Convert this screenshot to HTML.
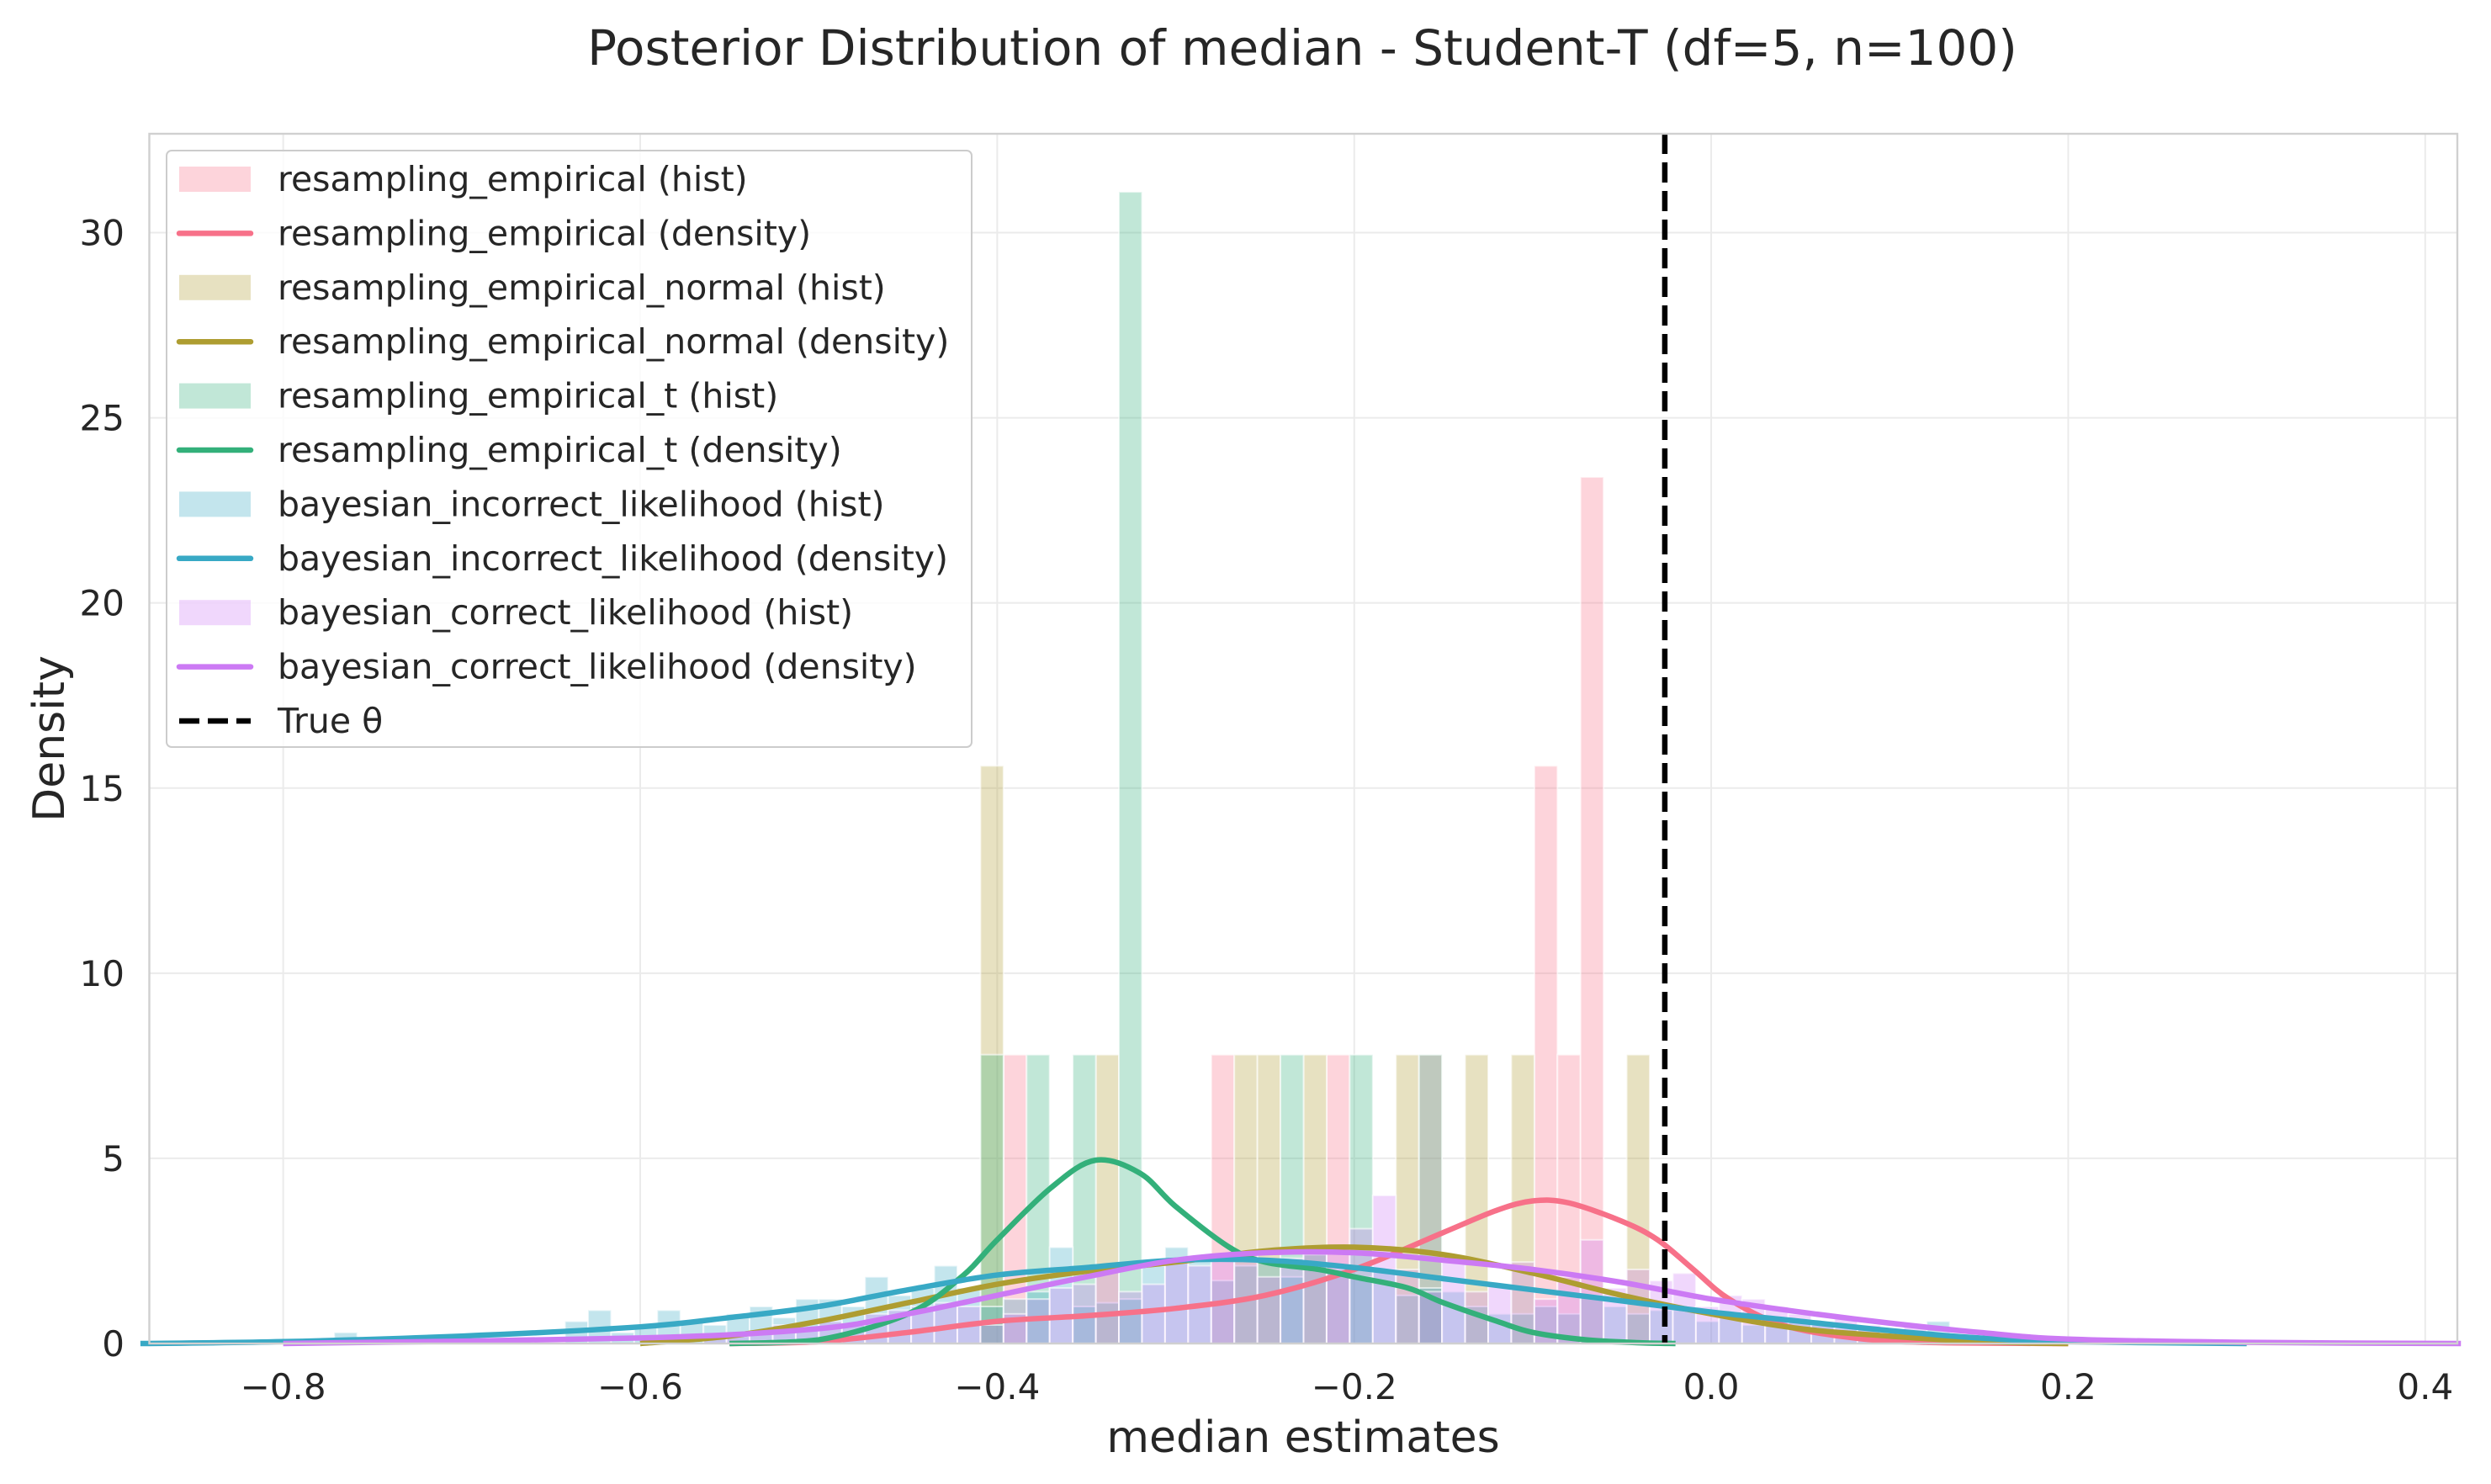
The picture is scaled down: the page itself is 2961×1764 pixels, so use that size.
<!DOCTYPE html>
<html><head><meta charset="utf-8"><style>
body{margin:0;background:#fff}
svg{display:block;font-family:"DejaVu Sans","Liberation Sans",sans-serif}
</style></head><body>
<svg id="c" width="2961" height="1764" xmlns="http://www.w3.org/2000/svg">
<rect width="2961" height="1764" fill="#fff"/>
<text x="1548" y="77" font-size="58" text-anchor="middle" fill="#262626">Posterior Distribution of median - Student-T (df=5, n=100)</text>
<g id="grid"></g><g id="hists"></g><g id="lines"></g><g id="axes"></g><g id="legend"></g>
</svg>
<script>
const xTicks=[-0.8,-0.6,-0.4,-0.2,0.0,0.2,0.4];
const xTickLabels=["\u22120.8","\u22120.6","\u22120.4","\u22120.2","0.0","0.2","0.4"];
const yTicks=[0,5,10,15,20,25,30];
const trueTheta=-0.026;
const binStart=-0.4094, binWidth=0.01293;
const histEmpirical=[[1,7.8],[10,7.8],[15,7.8],[19,7.8],[24,15.6],[25,7.8],[26,23.4]];
const histNormal=[[0,15.6],[5,7.8],[11,7.8],[12,7.8],[14,7.8],[18,7.8],[21,7.8],[23,7.8],[28,7.8]];
const histT=[[0,7.8],[2,7.8],[4,7.8],[6,31.1],[13,7.8],[16,7.8],[19,7.8]];
const bayesFirstBin=-30;
const histIncorrect=[0,0,0.3,0,0,0,0,0,0,0,0,0,0.6,0.9,0.3,0.5,0.9,0.6,0.5,0.8,1.0,0.7,1.2,1.2,1.0,1.8,1.3,1.5,2.1,1.5,
1.0,1.2,1.4,2.6,1.0,1.1,1.2,2.1,2.6,2.3,1.7,2.1,2.2,1.8,2.4,2.0,1.8,2.0,1.3,1.5,1.4,1.0,0.8,0.8,1.0,0.8,1.3,1.0,0.8,0.9,0.9,0.6,0.8,0.5,0.7,0.6,0.5,0.4,0.4,0.3,0.2,0.6,0.2,0.1,0.1,0.1];
const histCorrect=[0,0,0,0,0,0,0,0,0,0,0,0,0,0,0,0,0.1,0,0.2,0.2,0.3,0.5,0.4,0.6,0.5,0.8,0.9,1.0,1.1,1.0,
0.5,0.8,1.2,1.5,1.6,2.0,1.4,1.6,2.2,2.1,2.4,2.5,1.8,2.3,2.5,2.6,3.1,4.0,2.0,1.4,2.2,1.4,1.6,2.2,1.2,1.8,2.8,1.5,2.0,1.7,1.9,1.0,1.3,1.2,1.0,0.8,0.6,0.7,0.5,0.3,0.5,0.3,0.2,0.1,0.2,0.1];
const densEmpirical=[[-0.55,0],[-0.5,0.05],[-0.45,0.3],[-0.4,0.6],[-0.35,0.75],[-0.3,0.95],[-0.25,1.3],[-0.2,2.0],[-0.15,3.0],[-0.12,3.6],[-0.1,3.85],[-0.08,3.8],[-0.05,3.3],[-0.03,2.8],[-0.01,2.0],[0.01,1.2],[0.04,0.5],[0.08,0.15],[0.12,0.03],[0.2,0]];
const densNormal=[[-0.6,0],[-0.55,0.2],[-0.5,0.6],[-0.45,1.1],[-0.4,1.6],[-0.35,1.95],[-0.3,2.2],[-0.25,2.5],[-0.2,2.6],[-0.15,2.4],[-0.1,1.9],[-0.05,1.3],[0,0.8],[0.05,0.4],[0.1,0.2],[0.15,0.05],[0.2,0]];
const densT=[[-0.55,0],[-0.5,0.1],[-0.45,0.8],[-0.42,1.8],[-0.4,2.8],[-0.37,4.2],[-0.345,4.95],[-0.32,4.6],[-0.3,3.7],[-0.27,2.6],[-0.25,2.2],[-0.22,2.0],[-0.2,1.8],[-0.17,1.5],[-0.15,1.1],[-0.12,0.6],[-0.1,0.3],[-0.07,0.1],[-0.04,0.02],[-0.02,0]];
const densIncorrect=[[-0.88,0],[-0.8,0.05],[-0.7,0.2],[-0.6,0.45],[-0.55,0.7],[-0.5,1.0],[-0.45,1.45],[-0.4,1.85],[-0.35,2.05],[-0.3,2.25],[-0.25,2.25],[-0.2,2.05],[-0.15,1.75],[-0.1,1.45],[-0.05,1.15],[0,0.85],[0.05,0.6],[0.1,0.35],[0.15,0.15],[0.2,0.05],[0.3,0]];
const densCorrect=[[-0.8,0],[-0.6,0.15],[-0.5,0.4],[-0.45,0.8],[-0.4,1.3],[-0.35,1.8],[-0.3,2.25],[-0.25,2.45],[-0.2,2.45],[-0.15,2.25],[-0.1,2.0],[-0.05,1.65],[0,1.2],[0.05,0.85],[0.1,0.55],[0.15,0.3],[0.2,0.12],[0.3,0.03],[0.42,0]];

const L=177.5,R=2921,T=159,B=1597,XMIN=-0.875,XMAX=0.418,YMAX=32.67;
const sx=v=>L+(v-XMIN)/(XMAX-XMIN)*(R-L);
const sy=v=>B-v/YMAX*(B-T);
const NS="http://www.w3.org/2000/svg";
function mk(tag,attrs,parent){const e=document.createElementNS(NS,tag);for(const k in attrs)e.setAttribute(k,attrs[k]);parent.appendChild(e);return e;}
const grid=document.getElementById('grid'),hists=document.getElementById('hists'),lines=document.getElementById('lines'),axes=document.getElementById('axes'),legend=document.getElementById('legend');
mk('rect',{x:L,y:T,width:R-L,height:B-T,fill:'#fff'},grid);
xTicks.forEach((t,i)=>{
 const g=mk('line',{x1:sx(t),x2:sx(t),y1:T,y2:B,stroke:'#ebebeb','stroke-width':2},grid);
 
 
 const tx=mk('text',{x:sx(t),y:1663,'font-size':42,'text-anchor':'middle',fill:'#262626'},axes);
 tx.textContent=xTickLabels[i];
 
 
});
yTicks.forEach(t=>{
 const g=mk('line',{x1:L,x2:R,y1:sy(t),y2:sy(t),stroke:'#ebebeb','stroke-width':2},grid);
 
 
 const tx=mk('text',{x:148,y:sy(t)+15,'font-size':42,'text-anchor':'end',fill:'#262626'},axes);
 tx.textContent=String(t);
 
 
});
const C={pink:'#f77189',olive:'#ae9d31',green:'#33b07a',blue:'#38a9c5',purple:'#cc7af4'};
function bar(k,h,col,name){
 const x0=sx(binStart+k*binWidth),x1=sx(binStart+(k+1)*binWidth);
 if(h<=0)return;
 const r=mk('rect',{x:x0,y:sy(h),width:x1-x0,height:sy(0)-sy(h),fill:col,'fill-opacity':0.3,stroke:'#fff','stroke-width':2,'stroke-opacity':0.6},hists);
 
 
}
histEmpirical.forEach(d=>bar(d[0],d[1],C.pink,'hist-bar-empirical'));
histNormal.forEach(d=>bar(d[0],d[1],C.olive,'hist-bar-empirical-normal'));
histT.forEach(d=>bar(d[0],d[1],C.green,'hist-bar-empirical-t'));
histIncorrect.forEach((h,i)=>bar(bayesFirstBin+i,h,C.blue,'hist-bar-bayesian-incorrect'));
histCorrect.forEach((h,i)=>bar(bayesFirstBin+i,h,C.purple,'hist-bar-bayesian-correct'));
function curve(pts,col,name){
 const P=pts.map(p=>[sx(p[0]),sy(p[1])]);
 let d='M'+P[0][0]+','+P[0][1];
 for(let i=0;i<P.length-1;i++){
  const p0=P[Math.max(0,i-1)],p1=P[i],p2=P[i+1],p3=P[Math.min(P.length-1,i+2)];
  const c1=[p1[0]+(p2[0]-p0[0])/6,p1[1]+(p2[1]-p0[1])/6],c2=[p2[0]-(p3[0]-p1[0])/6,p2[1]-(p3[1]-p1[1])/6];
  d+=` C${c1[0]},${Math.min(c1[1],B)} ${c2[0]},${Math.min(c2[1],B)} ${p2[0]},${p2[1]}`;
 }
 const e=mk('path',{d:d,fill:'none',stroke:col,'stroke-width':6.5,'stroke-linejoin':'round'},lines);
 
 
}
curve(densEmpirical,C.pink,'density-empirical');
curve(densNormal,C.olive,'density-empirical-normal');
curve(densT,C.green,'density-empirical-t');
curve(densIncorrect,C.blue,'density-bayesian-incorrect');
curve(densCorrect,C.purple,'density-bayesian-correct');
const tl=mk('line',{x1:sx(trueTheta),x2:sx(trueTheta),y1:T,y2:B,stroke:'#000','stroke-width':6.5,'stroke-dasharray':'24,10'},lines);


const fr=mk('rect',{x:L,y:T,width:R-L,height:B-T,fill:'none',stroke:'#d0d0d0','stroke-width':2.4},axes);


const xl=mk('text',{x:1549,y:1726,'font-size':52,'text-anchor':'middle',fill:'#262626'},axes);
xl.textContent='median estimates';


const yl=mk('text',{x:0,y:0,'font-size':52,'text-anchor':'middle',fill:'#262626',transform:'translate(76,878) rotate(-90)'},axes);
yl.textContent='Density';


const lb=mk('rect',{x:198,y:179,width:957,height:709,rx:6,fill:'#fff','fill-opacity':0.8,stroke:'#cccccc','stroke-width':2},legend);


const legendLabels=['resampling_empirical (hist)','resampling_empirical (density)','resampling_empirical_normal (hist)','resampling_empirical_normal (density)','resampling_empirical_t (hist)','resampling_empirical_t (density)','bayesian_incorrect_likelihood (hist)','bayesian_incorrect_likelihood (density)','bayesian_correct_likelihood (hist)','bayesian_correct_likelihood (density)','True \u03b8'];
const legendCols=[C.pink,C.pink,C.olive,C.olive,C.green,C.green,C.blue,C.blue,C.purple,C.purple,'#000'];
legendLabels.forEach((lab,i)=>{
 const y=213+i*64.4;
 const g=mk('g',{},legend);
 
 
 if(i===10){mk('line',{x1:213,x2:298,y1:y,y2:y,stroke:'#000','stroke-width':6.5,'stroke-dasharray':'24,10'},g);}
 else if(i%2===0){mk('rect',{x:213,y:y-15,width:85,height:30,fill:legendCols[i],'fill-opacity':0.3},g);}
 else{mk('line',{x1:213,x2:298,y1:y,y2:y,stroke:legendCols[i],'stroke-width':6.5,'stroke-linecap':'round'},g);}
 const t=mk('text',{x:330,y:y+14,'font-size':41,fill:'#262626'},g);
 t.textContent=lab;
});
</script>
</body></html>
